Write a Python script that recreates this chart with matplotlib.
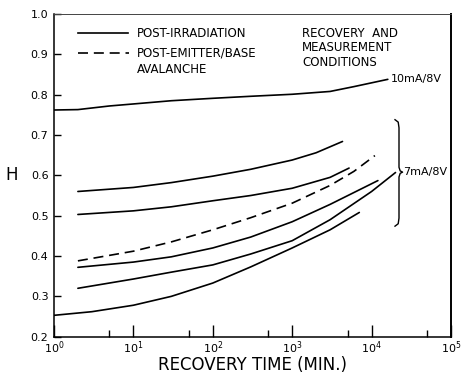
import numpy as np
import matplotlib
matplotlib.use("Agg")
import matplotlib.pyplot as plt
from matplotlib.ticker import LogLocator, NullFormatter
import matplotlib.transforms as mtransforms

plt.rcParams['font.family'] = ['DejaVu Sans Condensed', 'Liberation Sans Narrow', 'DejaVu Sans']

# recovery time (min) and H values
t_10ma = [1, 2, 5, 10, 30, 100, 300, 1000, 3000, 6000, 16000]
h_10ma = [0.762, 0.763, 0.772, 0.777, 0.785, 0.791, 0.796, 0.801, 0.808, 0.820, 0.838]

t_irr1 = [2, 10, 30, 100, 300, 1000, 2000, 4300]
h_irr1 = [0.560, 0.570, 0.582, 0.598, 0.615, 0.638, 0.656, 0.684]

t_irr2 = [2, 10, 30, 100, 300, 1000, 3000, 5200]
h_irr2 = [0.503, 0.512, 0.522, 0.537, 0.550, 0.568, 0.595, 0.618]

t_aval = [2, 10, 30, 100, 300, 1000, 3000, 6000, 11000]
h_aval = [0.388, 0.412, 0.435, 0.465, 0.495, 0.531, 0.575, 0.610, 0.649]

t_irr3 = [2, 10, 30, 100, 300, 1000, 3000, 12000]
h_irr3 = [0.372, 0.385, 0.398, 0.420, 0.447, 0.485, 0.528, 0.587]

t_irr4 = [2, 10, 30, 100, 300, 1000, 3000, 10000, 20000]
h_irr4 = [0.320, 0.343, 0.360, 0.378, 0.405, 0.438, 0.490, 0.560, 0.607]

t_irr5 = [1, 3, 10, 30, 100, 300, 1000, 3000, 7000]
h_irr5 = [0.253, 0.262, 0.278, 0.300, 0.333, 0.373, 0.420, 0.465, 0.508]

fig = plt.figure(figsize=(4.62, 3.74), dpi=100)
ax = fig.add_axes([54 / 462, (374 - 336.7) / 374, 397 / 462, 322.7 / 374])

solid = [(t_10ma, h_10ma), (t_irr1, h_irr1), (t_irr2, h_irr2),
         (t_irr3, h_irr3), (t_irr4, h_irr4), (t_irr5, h_irr5)]
for t, h in solid:
    ax.plot(t, h, color='black', lw=1.2, solid_capstyle='round')
ax.plot(t_aval, h_aval, color='black', lw=1.2, dashes=(6, 3.5))

ax.set_xscale('log')
ax.set_xlim(1, 1e5)
ax.set_ylim(0.2, 1.0)
ax.set_yticks(np.arange(0.2, 1.01, 0.1))
ax.set_yticklabels([f"{v:.1f}" for v in np.arange(0.2, 1.01, 0.1)])
ax.xaxis.set_major_locator(LogLocator(base=10, numticks=10))
ax.xaxis.set_minor_locator(LogLocator(base=10, subs=[5], numticks=10))
ax.xaxis.set_minor_formatter(NullFormatter())
ax.tick_params(axis='both', which='major', direction='in', labelsize=8,
               top=False, right=False, width=1.0)
ax.tick_params(axis='x', which='major', length=9, pad=2)
ax.tick_params(axis='y', which='major', length=5, pad=4)
ax.tick_params(axis='x', which='minor', direction='in', length=5, width=1.0, top=False)

for s in ['left', 'bottom']:
    ax.spines[s].set_linewidth(1.1)
ax.spines['right'].set_linewidth(1.4)
ax.spines['top'].set_linewidth(0.7)
ax.spines['top'].set_color('#444444')

ax.set_xlabel('RECOVERY TIME (MIN.)', fontsize=12, labelpad=0)
ax.set_ylabel('H', fontsize=12, rotation=0, labelpad=14, va='center')

# legend drawn by hand, like the original
ax.plot([0.060, 0.186], [0.94, 0.94], transform=ax.transAxes, color='black', lw=1.2)
ax.plot([0.060, 0.190], [0.878, 0.878], transform=ax.transAxes, color='black', lw=1.2,
        dashes=(6, 3.5))
ax.text(0.21, 0.94, 'POST-IRRADIATION', transform=ax.transAxes, fontsize=8.5, va='center')
ax.text(0.21, 0.878, 'POST-EMITTER/BASE', transform=ax.transAxes, fontsize=8.5, va='center')
ax.text(0.21, 0.828, 'AVALANCHE', transform=ax.transAxes, fontsize=8.5, va='center')
ax.text(0.625, 0.96, 'RECOVERY  AND\nMEASUREMENT\nCONDITIONS', transform=ax.transAxes,
        fontsize=8.5, va='top', linespacing=1.15)

ax.text(1.75e4, 0.838, '10mA/8V', fontsize=8, va='center', ha='left')

# curly brace for the 7mA/8V group
bt = mtransforms.blended_transform_factory(ax.transAxes, ax.transData)
x0 = (395 - 54) / 397
d = 4 / 397
top, tip, bot = 0.738, 0.608, 0.474
bx = [x0, x0 + d * 0.8, x0 + d, x0 + d, x0 + d * 1.3, x0 + d * 1.9,
      x0 + d * 1.3, x0 + d, x0 + d, x0 + d * 0.8, x0]
by = [top, top - 0.006, top - 0.02, tip + 0.012, tip + 0.003, tip,
      tip - 0.003, tip - 0.012, bot + 0.02, bot + 0.006, bot]
ax.plot(bx, by, transform=bt, color='black', lw=1.0)
ax.text(x0 + d * 2.0, tip, '7mA/8V', transform=bt, fontsize=8, va='center', ha='left')

fig.savefig('out.png', dpi=100)
